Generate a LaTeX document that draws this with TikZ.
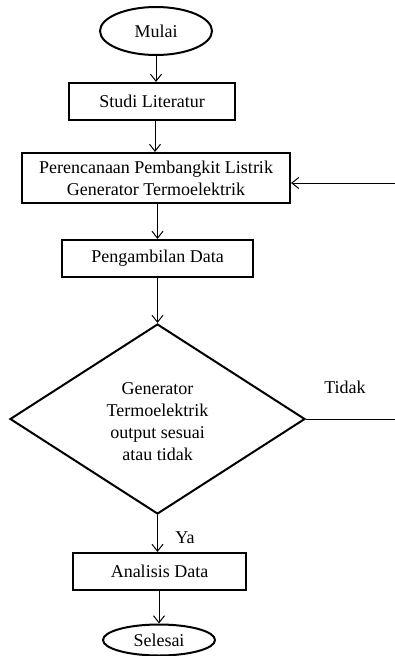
\documentclass[tikz,border=0pt]{standalone}
\usepackage{fontspec}
\setmainfont{Liberation Serif}
\usetikzlibrary{shapes.geometric,arrows.meta}

\begin{document}
\begin{tikzpicture}[
    x=1pt,
    y=-1pt,
    font=\fontsize{18}{22}\selectfont,
    box/.style={draw, line width=2pt, inner sep=0pt, align=center},
    term/.style={draw, ellipse, line width=2pt, inner sep=0pt},
    decide/.style={draw, diamond, line width=2pt, inner sep=0pt, align=center},
    arr/.style={-{Straight Barb[length=7pt,width=11pt]}, line width=1pt}
]

\useasboundingbox (0,0) rectangle (395,656);

% Nodes
\node[term, minimum width=112pt, minimum height=48pt] (mulai) at (156,31) {Mulai};
\node[box, minimum width=166pt, minimum height=37pt] (studi) at (152,101.5) {Studi Literatur};
\node[box, minimum width=268pt, minimum height=50pt] (rencana) at (156,178)
    {Perencanaan Pembangkit Listrik\\Generator Termoelektrik};
\node[box, minimum width=191pt, minimum height=37pt] (ambil) at (157.5,258.5) {Pengambilan Data};
\node[decide, minimum width=295pt, minimum height=190pt] (cek) at (157.5,419) {};
\node[align=center] (cektext) at (157.5,422) {Generator\\Termoelektrik\\output sesuai\\atau tidak};
\node[box, minimum width=173pt, minimum height=37pt] (analisis) at (159.5,571.5) {Analisis Data};
\node[term, minimum width=112pt, minimum height=31pt] (selesai) at (159,640) {Selesai};

% Edge ends
\coordinate (tidakend) at (395,419);
\coordinate (back) at (395,183);

% Connectors
\draw[arr] (mulai.south) -- (mulai.south |- studi.north);
\draw[arr] (studi.south -| 155,0) -- (rencana.north -| 155,0);
\draw[arr] (rencana.south -| cek.north) -- (ambil.north -| cek.north);
\draw[arr] (ambil.south -| cek.north) -- (cek.north);
\draw[arr] (cek.south) -- node[right, xshift=14pt, yshift=-4pt] (ya) {Ya} (cek.south |- analisis.north);
\draw[arr] (analisis.south -| selesai.north) -- (selesai.north);
\draw[line width=1pt] (cek.east) -- (tidakend);
\node (tidak) at (345,387) {Tidak};
\draw[arr] (back) -- (back -| rencana.east);

\end{tikzpicture}
\end{document}
